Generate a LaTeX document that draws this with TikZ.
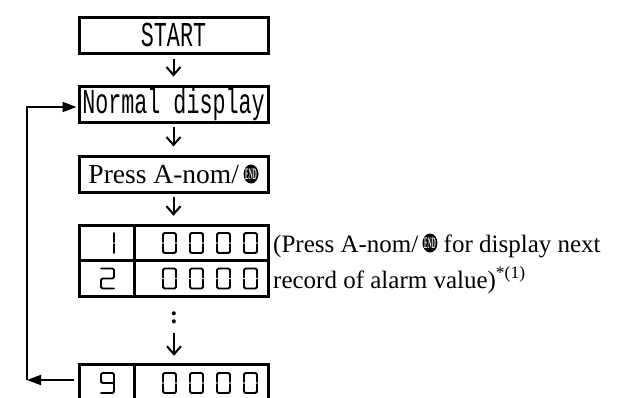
\documentclass[tikz,border=0pt]{standalone}
\usepackage{fontspec}
\usepackage{graphicx}
\setmainfont{Liberation Serif}
\newfontfamily\lcdfont[FakeStretch=0.62]{Liberation Mono}
\usetikzlibrary{positioning}
\usetikzlibrary{arrows.meta}

\newcommand{\enkey}{\tikz[baseline=0pt]{\fill[black] (0pt,9pt) ellipse (7.5pt and 9.5pt); \node[white, draw=none, inner sep=0pt, anchor=center, minimum width=0pt, minimum height=0pt, font=\fontsize{10}{10}\selectfont\bfseries] at (0pt,9pt) {\scalebox{0.55}[1.6]{END}};}}

\tikzset{
 flowbox/.style={rectangle, draw=black, line width=3pt, minimum width=189pt, minimum height=36pt, inner sep=0pt},
 monotext/.style={font=\lcdfont\fontsize{35}{35}\selectfont},
 serftext/.style={font=\fontsize{25}{30}\selectfont},
 cellbox/.style={rectangle, draw=black, line width=3pt, minimum height=35.5pt, inner sep=0pt},
 flowarrow/.style={line width=2pt, -{Straight Barb[length=8pt,width=14pt]}},
 looparrow/.style={line width=2pt, -{Triangle[length=14pt,width=10pt]}},
 lcdseg/.style={line width=1.8pt, rounded corners=1.5pt, line cap=round},
 lcdzero/.pic={\draw[lcdseg] (13pt,11pt) -- (13pt,20pt) -- (0pt,20pt) -- (0pt,11pt);
  \draw[lcdseg] (0pt,9pt) -- (0pt,0pt) -- (13pt,0pt) -- (13pt,9pt);},
 lcdone/.pic={\draw[lcdseg] (13pt,11pt) -- (13pt,20pt); \draw[lcdseg] (13pt,9pt) -- (13pt,0pt);},
 lcdtwo/.pic={\draw[lcdseg] (0pt,20pt) -- (13pt,20pt) -- (13pt,10pt) -- (0pt,10pt) -- (0pt,0pt) -- (13pt,0pt);},
 lcdnine/.pic={\draw[lcdseg] (13pt,10pt) -- (0pt,10pt) -- (0pt,20pt) -- (13pt,20pt) -- (13pt,0pt) -- (0pt,0pt);}
}

\begin{document}
\begin{tikzpicture}
\useasboundingbox (0pt,0pt) rectangle (629pt,-397pt);
\node (start) [flowbox, monotext] at (173.5pt, -35pt) {START};
\node (nd) [flowbox, monotext] at (173.5pt, -104pt) {Normal display};
\node (press) [flowbox, serftext, font=\fontsize{27.5}{30}\selectfont] at (173.5pt, -174pt) {Press A-nom/\,\enkey};
\node (r1a) [cellbox, minimum width=55pt] at (106.5pt, -243pt) {};
\node (r1b) [cellbox, minimum width=134pt] at (201pt, -243pt) {};
\node (r2a) [cellbox, minimum width=55pt] at (106.5pt, -278.5pt) {};
\node (r2b) [cellbox, minimum width=134pt] at (201pt, -278.5pt) {};
\node (r9a) [cellbox, minimum width=55pt] at (106.5pt, -382pt) {};
\node (r9b) [cellbox, minimum width=134pt] at (201pt, -382pt) {};
\node (dots) [serftext, anchor=base, inner sep=0pt] at (174pt, -323pt) {\textbf{:}};
\node (note1) [serftext, anchor=base west, inner sep=0pt] at (273pt, -252pt) {(Press A-nom/\,\enkey{} for display next};
\node (note2) [serftext, anchor=base west, inner sep=0pt] at (273pt, -288pt) {record of alarm value)\textsuperscript{*(1)}};
\pic at (101pt, -253pt) {lcdone};
\pic at (101pt, -288.5pt) {lcdtwo};
\pic at (101pt, -393pt) {lcdnine};
\foreach \y in {253, 288.5, 393}
  \foreach \x in {163, 190, 217, 244}
    \pic at (\x pt, -\y pt) {lcdzero};
\coordinate (loopbot) at (27pt, -380pt);
\coordinate (looptop) at (27pt, -107pt);
\draw [flowarrow, shorten <=4pt, shorten >=8pt] (start.south) to (nd.north);
\draw [flowarrow, shorten <=3pt, shorten >=8pt] (nd.south) to (press.north);
\draw [flowarrow, shorten <=3pt, shorten >=8pt] (press.south) to (press.south |- r1b.north);
\draw [flowarrow, shorten <=9pt, shorten >=7pt] (dots.south) to (dots.south |- r9b.north);
\draw [looparrow, shorten <=4pt] (r9a.west |- loopbot) to (loopbot);
\draw [looparrow, shorten >=1pt] (loopbot) -- (looptop) -- (looptop -| nd.west);
\end{tikzpicture}
\end{document}
